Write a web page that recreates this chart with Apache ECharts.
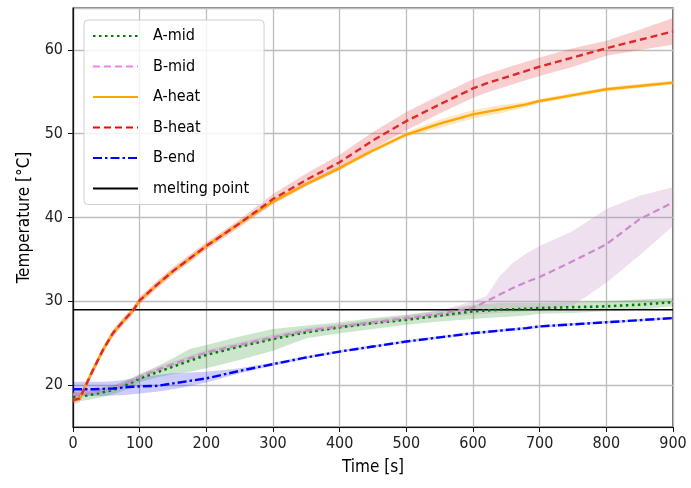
<!DOCTYPE html>
<html>
<head>
<meta charset="utf-8">
<script src="https://cdn.jsdelivr.net/npm/echarts@6/dist/echarts.min.js"></script>
<style>
  html, body { margin: 0; padding: 0; background: #fff; }
  #chart { width: 691px; height: 488px; }
</style>
</head>
<body>
<div id="chart"></div>
<script>
// Sample times [s]
const time = [0, 10, 20, 30, 45, 60, 75, 90, 100, 125, 150, 175, 200, 250, 300, 350, 400, 450, 500, 550, 600, 620, 640, 660, 680, 700, 750, 800, 850, 900];

// Mean temperatures [°C] and their min/max envelopes
const aMid   = [18.6, 18.65, 18.75, 18.9, 19.15, 19.4, 19.85, 20.4, 20.8, 21.5, 22.2, 22.9, 23.6, 24.6, 25.5, 26.3, 26.9, 27.4, 27.8, 28.3, 28.8, 28.9, 29.0, 29.05, 29.1, 29.2, 29.3, 29.4, 29.6, 29.9];
const aMidLo = [18.0, 18.1, 18.2, 18.35, 18.6, 18.9, 19.3, 19.9, 20.35, 20.9, 21.3, 21.6, 22.0, 23.0, 24.1, 25.6, 26.2, 26.7, 27.2, 27.6, 27.9, 28.0, 28.1, 28.2, 28.3, 28.5, 28.6, 28.8, 29.0, 29.4];
const aMidHi = [19.2, 19.2, 19.3, 19.45, 19.7, 19.95, 20.4, 20.9, 21.3, 22.2, 23.2, 24.3, 24.8, 25.8, 26.7, 27.1, 27.5, 28.0, 28.4, 28.9, 29.6, 29.7, 29.8, 29.8, 29.8, 29.8, 29.9, 30.0, 30.2, 30.4];

const bMid   = [18.9, 18.9, 19.0, 19.1, 19.35, 19.6, 20.0, 20.6, 21.0, 21.8, 22.5, 23.2, 23.9, 24.8, 25.7, 26.5, 27.0, 27.5, 28.0, 28.5, 29.2, 30.0, 30.8, 31.6, 32.3, 32.9, 34.8, 36.8, 39.8, 41.8];
const bMidLo = [18.6, 18.6, 18.7, 18.8, 19.05, 19.3, 19.7, 20.3, 20.7, 21.5, 22.2, 22.9, 23.6, 24.5, 25.4, 26.2, 26.7, 27.2, 27.7, 28.1, 28.4, 28.5, 28.6, 28.7, 28.8, 28.9, 29.5, 32.2, 35.5, 39.0];
const bMidHi = [19.2, 19.2, 19.3, 19.4, 19.65, 19.9, 20.3, 20.9, 21.3, 22.1, 22.8, 23.5, 24.2, 25.1, 26.0, 26.8, 27.3, 27.8, 28.3, 28.9, 30.0, 30.6, 33.0, 34.6, 35.7, 36.6, 38.4, 41.0, 42.6, 43.6];

const aHeat   = [18.2, 18.4, 20.1, 21.8, 24.2, 26.2, 27.6, 28.9, 30.1, 31.9, 33.6, 35.1, 36.6, 39.3, 41.9, 44.0, 45.9, 48.0, 49.9, 51.2, 52.3, 52.6, 52.9, 53.2, 53.5, 53.9, 54.6, 55.3, 55.7, 56.1];
const aHeatLo = [17.95, 18.15, 19.85, 21.55, 23.95, 25.95, 27.35, 28.65, 29.85, 31.65, 33.35, 34.85, 36.35, 39.05, 41.65, 43.75, 45.65, 47.75, 49.6, 50.7, 51.8, 52.1, 52.4, 52.8, 53.2, 53.65, 54.35, 55.05, 55.45, 55.85];
const aHeatHi = [18.45, 18.65, 20.35, 22.05, 24.45, 26.45, 27.85, 29.15, 30.35, 32.15, 33.85, 35.35, 36.85, 39.55, 42.15, 44.25, 46.15, 48.25, 50.2, 51.7, 52.8, 53.1, 53.4, 53.6, 53.8, 54.15, 54.85, 55.55, 55.95, 56.35];

const bHeat   = [18.2, 18.4, 20.1, 21.8, 24.2, 26.2, 27.6, 28.9, 30.1, 31.9, 33.6, 35.1, 36.6, 39.3, 42.2, 44.5, 46.6, 49.2, 51.5, 53.5, 55.4, 56.0, 56.5, 57.0, 57.5, 58.0, 59.1, 60.2, 61.2, 62.2];
const bHeatLo = [17.75, 17.95, 19.65, 21.35, 23.75, 25.75, 27.15, 28.45, 29.65, 31.45, 33.15, 34.65, 36.15, 38.85, 41.6, 43.75, 45.7, 48.2, 50.4, 52.4, 54.3, 54.9, 55.4, 55.9, 56.4, 56.9, 58.0, 59.3, 60.0, 60.6];
const bHeatHi = [18.65, 18.85, 20.55, 22.25, 24.65, 26.65, 28.05, 29.35, 30.55, 32.35, 34.05, 35.55, 37.05, 39.75, 42.8, 45.25, 47.5, 50.2, 52.6, 54.6, 56.5, 57.1, 57.6, 58.1, 58.6, 59.1, 60.2, 61.1, 62.4, 63.8];

const bEnd   = [19.5, 19.5, 19.5, 19.5, 19.55, 19.6, 19.7, 19.8, 19.85, 19.9, 20.2, 20.5, 20.8, 21.7, 22.5, 23.3, 24.0, 24.6, 25.2, 25.7, 26.2, 26.35, 26.5, 26.65, 26.8, 27.0, 27.25, 27.5, 27.75, 28.0];
const bEndLo = [18.7, 18.7, 18.7, 18.7, 18.7, 18.75, 18.8, 18.9, 19.0, 19.2, 19.5, 19.9, 20.3, 21.4, 22.3, 23.15, 23.85, 24.45, 25.05, 25.55, 26.05, 26.2, 26.35, 26.5, 26.65, 26.85, 27.1, 27.35, 27.6, 27.85];
const bEndHi = [20.4, 20.4, 20.4, 20.4, 20.4, 20.45, 20.6, 20.8, 20.9, 21.2, 21.4, 21.5, 21.6, 22.0, 22.7, 23.45, 24.15, 24.75, 25.35, 25.85, 26.35, 26.5, 26.65, 26.8, 26.95, 27.15, 27.4, 27.65, 27.9, 28.15];

const meltingPoint = 29;
const meltingSpan = [0, 900];

const FONT = '"DejaVu Sans Condensed", "Liberation Sans Narrow", "Roboto", sans-serif';

const pairs = (ys) => time.map((t, i) => [t, ys[i]]);

// Shaded envelope between lo and hi, drawn as one polygon in data coordinates
function band(lo, hi, color) {
  return {
    type: 'custom',
    silent: true,
    z: 1,
    data: [[time[0], lo[0]]],
    renderItem: function (params, api) {
      const pts = [];
      for (let i = 0; i < time.length; i++) pts.push(api.coord([time[i], hi[i]]));
      for (let i = time.length - 1; i >= 0; i--) pts.push(api.coord([time[i], lo[i]]));
      return {
        type: 'polygon',
        shape: { points: pts },
        style: { fill: color, stroke: null }
      };
    }
  };
}

function line(name, ys, color, width, type) {
  return {
    name: name,
    type: 'line',
    data: pairs(ys),
    symbol: 'none',
    showSymbol: false,
    z: 3,
    lineStyle: { color: color, width: width, type: type },
    itemStyle: { color: color }
  };
}

const hiddenMark = { opacity: 0 };

const chart = echarts.init(document.getElementById('chart'), null, { renderer: 'canvas' });

chart.setOption({
  animation: false,
  backgroundColor: '#fff',
  textStyle: { fontFamily: FONT },
  grid: {
    left: 73, right: 18, top: 8, bottom: 61,
    show: true, borderColor: '#111', borderWidth: 1.2, backgroundColor: 'transparent'
  },
  legend: {
    orient: 'vertical',
    left: 84, top: 20,
    padding: [8, 15, 8, 8],
    itemWidth: 45, itemHeight: 16, itemGap: 14.5,
    itemStyle: hiddenMark,
    backgroundColor: 'rgba(255,255,255,0.82)',
    borderColor: '#d0d0d0', borderWidth: 1, borderRadius: 4,
    textStyle: { fontFamily: FONT, fontSize: 16, lineHeight: 16, color: '#000', padding: [0, 0, 0, 10] },
    data: [
      { name: 'A-mid', lineStyle: { color: '#008000' }, itemStyle: hiddenMark },
      { name: 'B-mid', lineStyle: { color: '#ee82ee' }, itemStyle: hiddenMark },
      { name: 'A-heat', lineStyle: { color: '#ffa500' }, itemStyle: hiddenMark },
      { name: 'B-heat', lineStyle: { color: '#ff0000' }, itemStyle: hiddenMark },
      { name: 'B-end', lineStyle: { color: '#0000ff' }, itemStyle: hiddenMark },
      { name: 'melting point', lineStyle: { color: '#000' }, itemStyle: hiddenMark }
    ]
  },
  xAxis: {
    type: 'value', min: 0, max: 900, interval: 100,
    name: 'Time [s]', nameLocation: 'middle', nameGap: 32,
    nameTextStyle: { fontFamily: FONT, fontSize: 17, color: '#000' },
    axisLine: { show: true, lineStyle: { color: '#111', width: 1.2 } },
    axisTick: { show: true, length: 5, lineStyle: { color: '#111', width: 1 } },
    axisLabel: { fontFamily: FONT, fontSize: 16, color: '#222', margin: 9 },
    splitLine: { show: true, lineStyle: { color: '#bdbdbd', width: 1.3 } }
  },
  yAxis: {
    type: 'value', min: 15, max: 65, splitNumber: 5,
    name: 'Temperature [°C]', nameLocation: 'middle', nameGap: 40,
    nameTextStyle: { fontFamily: FONT, fontSize: 17, color: '#000' },
    axisLine: { show: true, lineStyle: { color: '#111', width: 1.2 } },
    axisTick: { show: true, length: 5, lineStyle: { color: '#111', width: 1 } },
    axisLabel: {
      fontFamily: FONT, fontSize: 16, color: '#222', margin: 10,
      showMinLabel: false, showMaxLabel: false,
      formatter: (v) => (v % 10 === 0 ? String(v) : '')
    },
    splitLine: { show: true, lineStyle: { color: '#bdbdbd', width: 1.3 } }
  },
  series: [
    band(bEndLo, bEndHi, 'rgba(0,0,255,0.2)'),
    band(aMidLo, aMidHi, 'rgba(0,128,0,0.2)'),
    band(bMidLo, bMidHi, 'rgba(190,130,190,0.25)'),
    band(aHeatLo, aHeatHi, 'rgba(255,165,0,0.25)'),
    band(bHeatLo, bHeatHi, 'rgba(230,60,60,0.25)'),
    line('A-mid', aMid, '#008000', 2.6, [2.5, 3.5]),
    line('B-mid', bMid, '#c98bc9', 2.2, [7, 4]),
    line('A-heat', aHeat, '#ffa500', 2.4, 'solid'),
    line('B-heat', bHeat, '#dd2a2a', 2.4, [7, 4]),
    line('B-end', bEnd, '#0000ff', 2.4, [9, 3, 2.5, 3]),
    {
      name: 'melting point',
      type: 'line',
      symbol: 'none',
      showSymbol: false,
      z: 2,
      data: meltingSpan.map((t) => [t, meltingPoint]),
      lineStyle: { color: '#000', width: 1.6, type: 'solid' },
      itemStyle: { color: '#000' }
    }
  ]
});
</script>
</body>
</html>
